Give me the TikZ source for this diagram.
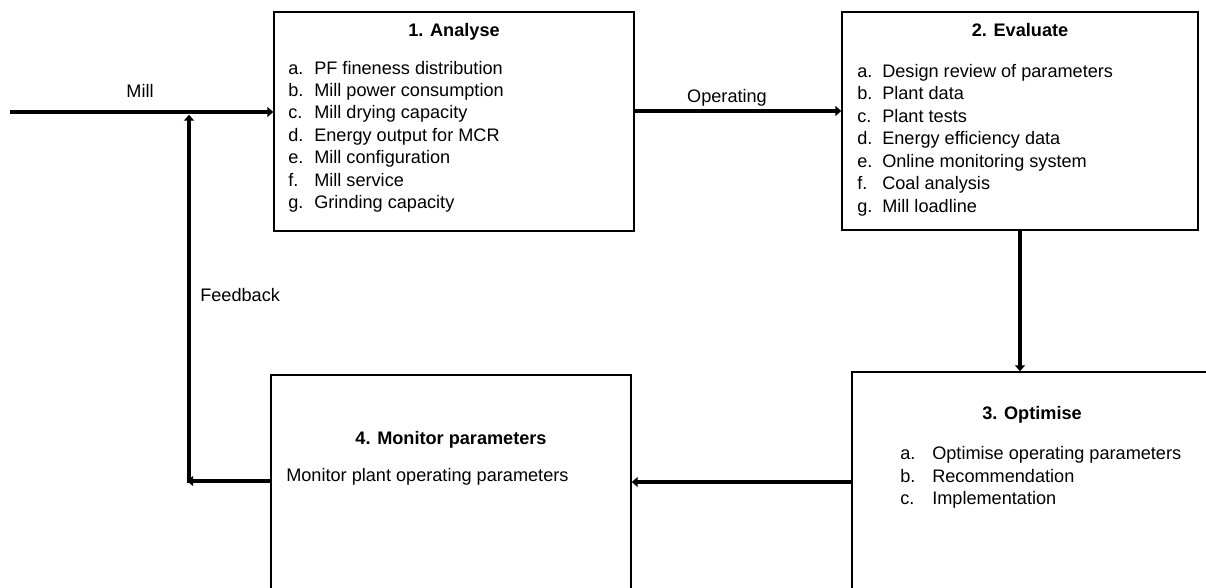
\documentclass[tikz,border=0pt]{standalone}
\usepackage{fontspec}
\setmainfont{Liberation Sans}
\usetikzlibrary{arrows.meta,fit}
\tikzset{
  box/.style={draw, line width=1.1pt, inner sep=0pt},
  arr/.style={line width=3.6pt, -{Triangle[length=4.5pt,width=7.5pt]}},
  txt/.style={inner sep=0pt, font=\fontsize{13.6}{16}\selectfont},
  ttl/.style={txt, font=\fontsize{13.6}{16}\selectfont\bfseries, anchor=base},
  item/.style={txt, anchor=base west},
}
\begin{document}
\begin{tikzpicture}[x=0.75pt,y=-0.75pt]
\useasboundingbox (0,0) rectangle (1206,587);
\clip (0,0) rectangle (1206,587);

% box corners
\coordinate (b1nw) at (274,12);  \coordinate (b1se) at (634,231);
\coordinate (b2nw) at (842,12);  \coordinate (b2se) at (1198,230);
\coordinate (b3nw) at (852,372); \coordinate (b3se) at (1240,640);
\coordinate (b4nw) at (271,375); \coordinate (b4se) at (631,640);

\node[box, fit=(b1nw)(b1se)] (b1) {};
\node[box, fit=(b2nw)(b2se)] (b2) {};
\node[box, fit=(b3nw)(b3se)] (b3) {};
\node[box, fit=(b4nw)(b4se)] (b4) {};

% titles
\node[ttl] (t1) at (454,36) {1. Analyse};
\node[ttl] (t2) at (1020,36) {2. Evaluate};
\node[ttl] (t3) at (1032,419) {3. Optimise};
\node[ttl] (t4) at (451,444) {4. Monitor parameters};

% box 1 items
\foreach \l/\t/\y [count=\i] in {a./PF fineness distribution/74,
  b./Mill power consumption/96, c./Mill drying capacity/118,
  d./Energy output for MCR/141, e./Mill configuration/163,
  f./Mill service/186, g./Grinding capacity/208}{
  \node[item] (l1\i) at (288,\y) {\l};
  \node[item] (i1\i) at (314,\y) {\t};
}
% box 2 items
\foreach \l/\t/\y [count=\i] in {a./Design review of parameters/77,
  b./Plant data/99, c./Plant tests/122,
  d./Energy efficiency data/144, e./Online monitoring system/167,
  f./Coal analysis/189, g./Mill loadline/212}{
  \node[item] (l2\i) at (857,\y) {\l};
  \node[item] (i2\i) at (882,\y) {\t};
}
% box 3 items
\foreach \l/\t/\y [count=\i] in {a./Optimise operating parameters/459,
  b./Recommendation/482, c./Implementation/504}{
  \node[item] (l3\i) at (900,\y) {\l};
  \node[item] (i3\i) at (932,\y) {\t};
}
% box 4 text
\node[item] (i41) at (286,481) {Monitor plant operating parameters};

% labels
\node[txt, anchor=base] (lmill) at (140,97) {Mill};
\node[txt, anchor=base] (lop) at (727,102) {Operating};
\node[txt, anchor=base west] (lfb) at (200,301) {Feedback};

% connectors
\coordinate (millstart) at (10,112);
\coordinate (opy) at (0,111);
\coordinate (dx) at (1020,0);
\coordinate (ly) at (0,482);
\coordinate (fbcorner) at (189,481);
\coordinate (fbjoin) at (189,112);

\draw[arr] (millstart) -- (millstart -| b1.west);
\draw[arr] (b1.east |- opy) -- (b2.west |- opy);
\draw[arr] (b2.south -| dx) -- (b3.north -| dx);
\draw[arr] (b3.west |- ly) -- (b4.east |- ly);
\draw[arr] (b4.west |- fbcorner) -- ([xshift=-1.4pt]fbcorner);
\draw[arr] ([yshift=-1.8pt]fbcorner) -- ([yshift=-2pt]fbjoin);
\end{tikzpicture}
\end{document}
